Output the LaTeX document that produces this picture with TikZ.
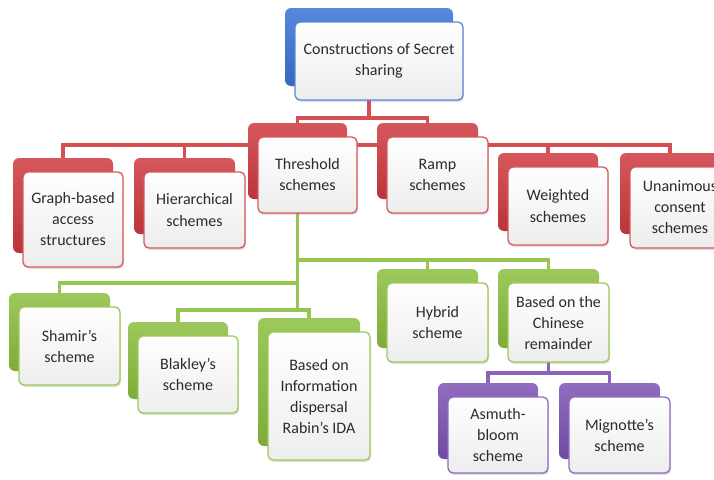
\documentclass[tikz,border=0pt]{standalone}
\usepackage{fontspec}
\setmainfont{Carlito}
\usetikzlibrary{shadows,backgrounds}

\definecolor{blueS}{HTML}{3A73D6}
\definecolor{redS}{HTML}{CF3A3F}
\definecolor{greenS}{HTML}{8CBF3F}
\definecolor{purpS}{HTML}{7D52B3}
\definecolor{txt}{HTML}{2B2B2B}

\tikzset{
  sz/.style 2 args={minimum width=#1pt, minimum height=#2pt},
  backbox/.style={rounded corners=6pt, inner sep=0pt,
    top color=#1!85!white, bottom color=#1!90!black, shading angle=0},
  frontbox/.style={rounded corners=5pt, draw=#1!85!white, line width=1.3pt,
    top color=white, bottom color=#1!6!gray!14, inner sep=2pt,
    align=center, text=txt, font=\fontsize{16}{21}\selectfont,
    drop shadow={opacity=0.25, shadow xshift=1pt, shadow yshift=-2pt}},
  link/.style={line width=3.8pt, draw=#1!90!white}
}

\begin{document}
\begin{tikzpicture}[x=1pt, y=-1pt]
    \useasboundingbox (0,0) rectangle (714,479);
    \clip (0,0) rectangle (714,479);

    % Root
    \node[backbox=blueS, sz={168}{78}] (topB) at (369,47) {};
    \node[frontbox=blueS, sz={168}{78}] (top) at (379,61) {Constructions of Secret\\sharing};

    % Red level
    \node[backbox=redS, sz={100}{95}] (graphB) at (63,205.5) {};
    \node[frontbox=redS, sz={100}{95}] (graph) at (73,219.5) {Graph-based\\access\\structures};
    \node[backbox=redS, sz={101}{76}] (hierB) at (184.5,196) {};
    \node[frontbox=redS, sz={101}{76}] (hier) at (194.5,210) {Hierarchical\\schemes};
    \node[backbox=redS, sz={99}{76}] (thrB) at (297.5,161) {};
    \node[frontbox=redS, sz={99}{76}] (thr) at (307.5,175) {Threshold\\schemes};
    \node[backbox=redS, sz={101}{76}] (rampB) at (427.5,161) {};
    \node[frontbox=redS, sz={101}{76}] (ramp) at (437.5,175) {Ramp\\schemes};
    \node[backbox=redS, sz={100}{78}] (wgtB) at (548,192) {};
    \node[frontbox=redS, sz={100}{78}] (wgt) at (558,206) {Weighted\\schemes};
    \node[backbox=redS, sz={100}{81}] (unanB) at (670,193.5) {};
    \node[frontbox=redS, sz={100}{81}] (unan) at (680,207.5) {Unanimous\\consent\\schemes};

    % Green level
    \node[backbox=greenS, sz={101}{78}] (shamB) at (59.5,332) {};
    \node[frontbox=greenS, sz={101}{78}] (sham) at (69.5,346) {Shamir’s\\scheme};
    \node[backbox=greenS, sz={100}{77}] (blakB) at (178,360.5) {};
    \node[frontbox=greenS, sz={100}{77}] (blak) at (188,374.5) {Blakley’s\\scheme};
    \node[backbox=greenS, sz={102}{128}] (idaB) at (309,382) {};
    \node[frontbox=greenS, sz={102}{128}] (ida) at (319,396) {Based on\\Information\\dispersal\\Rabin’s IDA};
    \node[backbox=greenS, sz={101}{79}] (hybB) at (427.5,308.5) {};
    \node[frontbox=greenS, sz={101}{79}] (hyb) at (437.5,322.5) {Hybrid\\scheme};
    \node[backbox=greenS, sz={101}{79}] (crtB) at (548.5,308.5) {};
    \node[frontbox=greenS, sz={101}{79}] (crt) at (558.5,322.5) {Based on the\\Chinese\\remainder};

    % Purple level
    \node[backbox=purpS, sz={100}{76}] (asmB) at (488,421) {};
    \node[frontbox=purpS, sz={100}{76}] (asm) at (498,435) {Asmuth-\\bloom\\scheme};
    \node[backbox=purpS, sz={101}{76}] (migB) at (609.5,421) {};
    \node[frontbox=purpS, sz={101}{76}] (mig) at (619.5,435) {Mignotte’s\\scheme};

    % Connectors
    \coordinate (rbarA) at (0,118);
    \coordinate (rbarB) at (0,145);
    \coordinate (gbarA) at (0,260);
    \coordinate (gbarB) at (0,283);
    \coordinate (gbarC) at (0,310);
    \coordinate (pbar) at (0,373);
    \begin{pgfonlayer}{background}
      \draw[link=redS] (topB.center) -- (topB.center |- rbarA);
      \draw[link=redS] (thrB.north) -- (thrB.north |- rbarA) -| (rampB.north);
      \draw[link=redS] (graphB.north) -- (graphB.north |- rbarB) -| (unanB.north);
      \draw[link=redS] (hierB.north) -- (hierB.north |- rbarB);
      \draw[link=redS] (wgtB.north) -- (wgtB.north |- rbarB);

      \draw[link=greenS] (thrB.center) -- (thrB.center |- gbarC) -| (idaB.north);
      \draw[link=greenS] (blakB.north) -- (blakB.north |- gbarC) -- (thrB.center |- gbarC);
      \draw[link=greenS] (shamB.north) -- (shamB.north |- gbarB) -- (thrB.center |- gbarB);
      \draw[link=greenS] (thrB.center |- gbarA) -| (crtB.north);
      \draw[link=greenS] (hybB.north) -- (hybB.north |- gbarA);

      \draw[link=purpS] (crtB.center) -- (crtB.center |- pbar);
      \draw[link=purpS] (asmB.north) -- (asmB.north |- pbar) -| (migB.north);
    \end{pgfonlayer}
\end{tikzpicture}
\end{document}
